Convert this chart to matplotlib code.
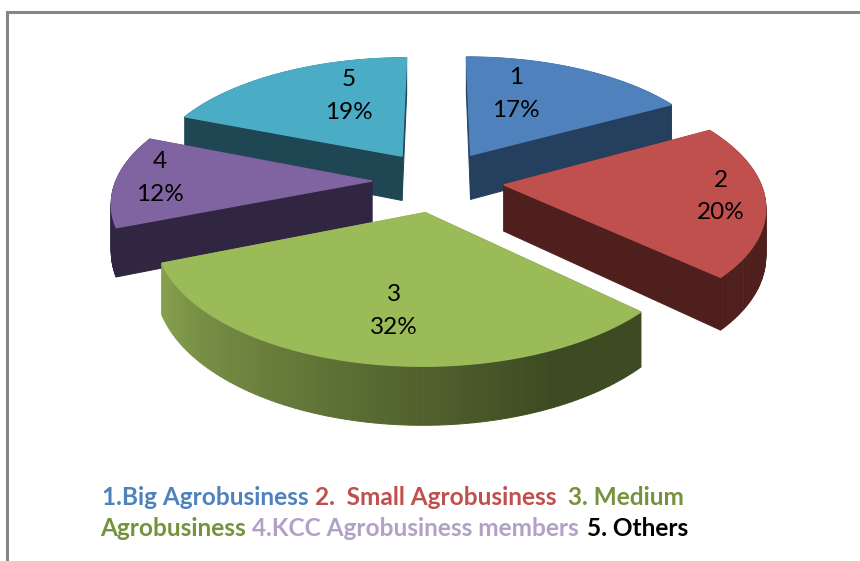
import numpy as np
import matplotlib
matplotlib.use("Agg")
import matplotlib.pyplot as plt
from matplotlib.colors import to_rgb

# dane z wykresu
categories = ["1", "2", "3", "4", "5"]
shares = [17, 20, 32, 12, 19]

legend_line1 = ["1.Big Agrobusiness", "2.  Small Agrobusiness", "3. Medium"]
legend_line2 = ["Agrobusiness", "4.KCC Agrobusiness members", "5. Others"]

# geometria pseudo 3D (piksele)
cx, cy = 438, 181
rx, ry = 256, 120
persp = 0.15
explode = 0.258
depth = 46

tops = ["#4F81BD", "#C0504D", "#9BBB59", "#8064A2", "#4BACC6"]
sides_a = ["#253F5E", "#4F1F1D", "#3D4A22", "#312642", "#1F4653"]
sides_b = ["#253F5E", "#4F1F1D", "#87A24E", "#312642", "#1F4653"]
label_pos = [(516, 77, 110), (721, 180, 212), (394, 294, 327), (160, 161, 194), (349, 79, 112)]


def project(u, v):
    s = 1 / (1 + persp * v)
    return cx + rx * u * s, cy - ry * v * s, depth * s ** 1.2


def draw_slice(a0, a1, top, side_a, side_b):
    mid = (a0 + a1) / 2
    ou, ov = explode * np.sin(mid), explode * np.cos(mid)
    ang = np.linspace(a0, a1, 90)
    us = np.r_[ou, ou + np.sin(ang), ou]
    vs = np.r_[ov, ov + np.cos(ang), ov]
    x, y, d = project(us, vs)

    # sciany boczne od tylu do przodu, gradient wzdluz luku
    c_a, c_b = np.array(to_rgb(side_a)), np.array(to_rgb(side_b))
    segs = sorted(range(len(x) - 1), key=lambda i: -(vs[i] + vs[i + 1]))
    for i in segs:
        t = np.clip((ang[min(i, len(ang) - 1)] - a0) / (a1 - a0), 0, 1)
        t = np.clip((t - 0.2) / 0.8, 0, 1)
        col = c_a * (1 - t) + c_b * t
        ax.fill([x[i], x[i + 1], x[i + 1], x[i]],
                [y[i], y[i + 1], y[i + 1] + d[i + 1], y[i] + d[i]],
                color=col, lw=0.7)
    ax.fill(x, y, color=top, lw=1.0)


fig = plt.figure(figsize=(8.6, 5.61), dpi=100)
ax = fig.add_axes([0, 0, 1, 1])
ax.set_xlim(0, 860)
ax.set_ylim(561, 0)
ax.axis("off")

# ramka wykresu (tylko lewa i gorna krawedz widoczna)
ax.plot([6.5, 6.5, 860], [561, 11.5, 11.5], color="#868686", lw=2.2, solid_joinstyle="miter")

edges = np.r_[0, np.cumsum(shares)] / sum(shares) * 2 * np.pi
for i in [4, 0, 3, 1, 2]:
    draw_slice(edges[i], edges[i + 1], tops[i], sides_a[i], sides_b[i])

for cat, val, (lx, y1, y2) in zip(categories, shares, label_pos):
    ax.text(lx, y1, cat, fontsize=17.5, family="Lato", ha="center", va="center", color="black")
    ax.text(lx, y2, f"{val}%", fontsize=17.5, family="Lato", ha="center", va="center", color="black")

# legenda jako kolorowy tekst
line1_x = [102, 315, 568]
line2_x = [100, 252, 587]
line1_c = ["#4F81BD", "#C0504D", "#76923C"]
line2_c = ["#76923C", "#B2A1C7", "black"]
for txt, lx, col in zip(legend_line1, line1_x, line1_c):
    ax.text(lx, 497, txt, fontsize=17.6, family="Lato", weight="bold", color=col, va="center")
for txt, lx, col in zip(legend_line2, line2_x, line2_c):
    ax.text(lx, 529, txt, fontsize=17.6, family="Lato", weight="bold", color=col, va="center")

fig.savefig("out.png", dpi=100)
